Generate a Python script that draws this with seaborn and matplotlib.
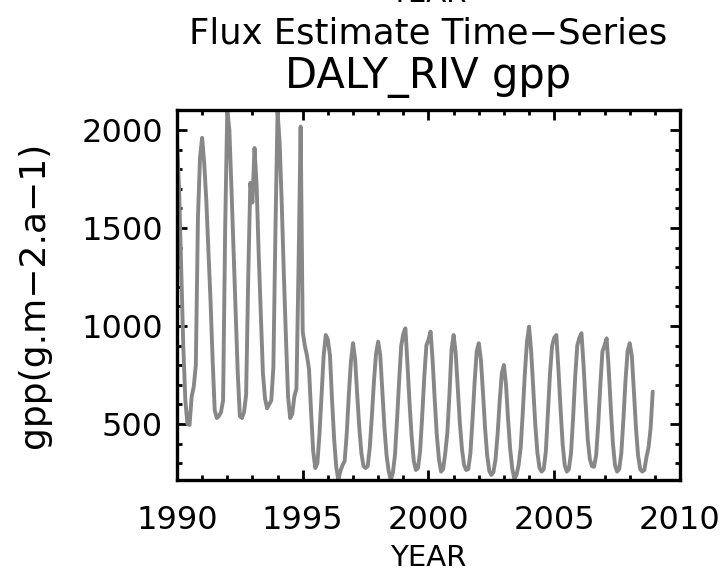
import numpy as np
import pandas as pd
import matplotlib
matplotlib.use("Agg")
import matplotlib.pyplot as plt
from matplotlib.ticker import MultipleLocator, FixedLocator
import seaborn as sns

# Monthly GPP (g m-2 a-1), January..December for each year
gpp_1990 = [1950, 1700, 1300, 900, 620, 500, 495, 640, 690, 800, 1550, 1860]
gpp_1991 = [1960, 1830, 1640, 1390, 1130, 830, 570, 530, 540, 560, 620, 1500]
gpp_1992 = [2102, 2000, 1700, 1380, 1070, 760, 540, 530, 560, 650, 1250, 1730]
gpp_1993 = [1630, 1908, 1717, 1365, 1060, 760, 630, 580, 600, 620, 790, 1500]
gpp_1994 = [2095, 1930, 1620, 1260, 940, 640, 530, 550, 640, 680, 1300, 2017]
gpp_1995 = [971, 900, 850, 780, 560, 360, 275, 300, 450, 650, 850, 954]
gpp_1996 = [930, 850, 620, 420, 280, 214, 260, 290, 310, 450, 650, 820]
gpp_1997 = [912, 830, 650, 480, 350, 285, 275, 285, 380, 540, 720, 860]
gpp_1998 = [920, 850, 660, 480, 340, 260, 216, 250, 340, 520, 720, 900]
gpp_1999 = [960, 988, 800, 600, 430, 310, 265, 275, 360, 540, 740, 900]
gpp_2000 = [930, 971, 820, 620, 440, 320, 257, 270, 350, 454, 650, 880]
gpp_2001 = [954, 860, 680, 500, 370, 290, 265, 270, 350, 520, 710, 870]
gpp_2002 = [912, 830, 660, 480, 340, 260, 240, 255, 320, 450, 620, 760]
gpp_2003 = [801, 700, 520, 370, 270, 220, 240, 290, 380, 560, 760, 920]
gpp_2004 = [997, 870, 680, 490, 350, 275, 257, 270, 360, 560, 760, 900]
gpp_2005 = [940, 954, 780, 580, 400, 290, 257, 270, 350, 530, 740, 900]
gpp_2006 = [940, 963, 800, 600, 420, 320, 285, 282, 340, 500, 700, 870]
gpp_2007 = [900, 937, 780, 580, 400, 290, 257, 270, 350, 520, 720, 870]
gpp_2008 = [912, 850, 670, 480, 340, 270, 257, 265, 330, 380, 480, 665]

years = list(range(1990, 2009))
yearly = [gpp_1990, gpp_1991, gpp_1992, gpp_1993, gpp_1994, gpp_1995, gpp_1996,
          gpp_1997, gpp_1998, gpp_1999, gpp_2000, gpp_2001, gpp_2002, gpp_2003,
          gpp_2004, gpp_2005, gpp_2006, gpp_2007, gpp_2008]

x_ticks = [1990, 1995, 2000, 2005, 2010]
y_ticks = [500, 1000, 1500, 2000]

rows = []
for yr, vals in zip(years, yearly):
    for m, v in enumerate(vals):
        rows.append({"time": yr + m / 12.0, "gpp": v})
df = pd.DataFrame(rows)

sns.set_style("ticks")
plt.rcParams["font.family"] = ["DejaVu Sans"]
plt.rcParams.update({
    "text.color": "black",
    "axes.labelcolor": "black",
    "xtick.color": "black",
    "ytick.color": "black",
})

fig = plt.figure(figsize=(7.25, 5.75), dpi=100)
ax = fig.add_axes([0.2441, 0.1652, 0.6938, 0.6435])

sns.lineplot(data=df, x="time", y="gpp", ax=ax, color="#878787",
             linewidth=2.8, estimator=None, sort=False)

ax.set_xlim(1990, 2010)
ax.set_ylim(df["gpp"].min(), df["gpp"].max())

ax.xaxis.set_major_locator(FixedLocator(x_ticks))
ax.xaxis.set_minor_locator(MultipleLocator(1))
ax.yaxis.set_major_locator(FixedLocator(y_ticks))
ax.yaxis.set_minor_locator(MultipleLocator(100))
ax.set_xticklabels([str(t) for t in x_ticks])

for s in ax.spines.values():
    s.set_visible(True)
    s.set_linewidth(2.4)
    s.set_color("black")

ax.tick_params(which="both", direction="in", top=True, right=True,
               width=2.0, color="black")
ax.tick_params(which="major", length=7)
ax.tick_params(which="minor", length=3.8)
ax.tick_params(axis="x", which="major", labelsize=23, pad=18)
ax.tick_params(axis="y", which="major", labelsize=23, pad=10)

ax.set_xlabel("YEAR", fontsize=21, labelpad=6)
ax.set_ylabel("gpp(g.m\u22122.a\u22121)", fontsize=26, labelpad=22)

xc = 0.591
fig.text(xc, 1 - 1.5 / 575, "YEAR", fontsize=21, ha="center", va="baseline")
fig.text(xc, 1 - 44 / 575, "Flux Estimate Time\u2212Series", fontsize=25.5,
         ha="center", va="baseline")
fig.text(xc, 1 - 88 / 575, "DALY_RIV gpp", fontsize=30,
         ha="center", va="baseline")

fig.savefig("out.png", dpi=100, facecolor="white")
